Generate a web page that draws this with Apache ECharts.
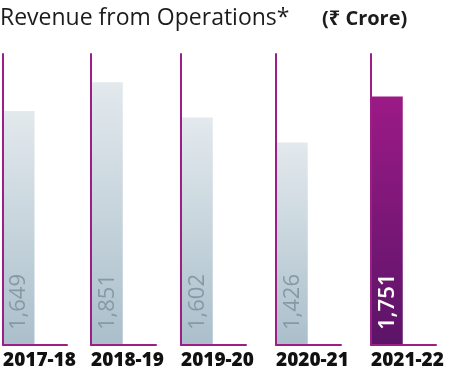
<!DOCTYPE html>
<html>
<head>
<meta charset="utf-8">
<script src="https://cdn.jsdelivr.net/npm/echarts@6/dist/echarts.min.js"></script>
<style>
html,body{margin:0;padding:0;background:#fff;}
#chart{width:463px;height:378px;}
</style>
</head>
<body>
<div id="chart"></div>
<script>
var categories = ['2017-18', '2018-19', '2019-20', '2020-21', '2021-22'];
var revenue = [1649, 1851, 1602, 1426, 1751];
var titleText = 'Revenue from Operations*';
var unitText = '(\u20B9 Crore)';

var gridLefts = [2, 91, 181, 276, 371];
var purple = '#9b1f87';
var grayBar = new echarts.graphic.LinearGradient(0, 0, 0, 1, [
  {offset: 0, color: '#e3e9ed'}, {offset: 1, color: '#aabfcb'}
]);
var magentaBar = new echarts.graphic.LinearGradient(0, 0, 0, 1, [
  {offset: 0, color: '#9c1a86'}, {offset: 1, color: '#5b1468'}
]);
var fontFam = '"Open Sans", "Noto Sans", sans-serif';

var grids = [], xAxes = [], yAxes = [], series = [];
categories.forEach(function (cat, i) {
  var last = i === categories.length - 1;
  grids.push({left: gridLefts[i], top: 54, width: 65, bottom: 33});
  // label / baseline axis
  xAxes.push({
    type: 'category', gridIndex: i, position: 'bottom', boundaryGap: false,
    data: [cat, ''], z: 5,
    axisLine: {show: true, lineStyle: {color: purple, width: 2}},
    axisTick: {show: false},
    axisLabel: {
      show: true, align: 'left', margin: 6, interval: 0,
      fontFamily: fontFam, fontSize: 19, fontWeight: 800, color: '#111'
    },
    splitLine: {show: false}
  });
  // bar axis
  xAxes.push({
    type: 'category', gridIndex: i, position: 'bottom', boundaryGap: true,
    data: [cat, ''], show: false
  });
  yAxes.push({
    type: 'value', gridIndex: i, min: 0, max: 2050, z: 5,
    axisLine: {show: true, lineStyle: {color: purple, width: 2}},
    axisTick: {show: false}, axisLabel: {show: false}, splitLine: {show: false}
  });
  series.push({
    type: 'bar', xAxisIndex: i * 2 + 1, yAxisIndex: i, barWidth: 31,
    data: [revenue[i], null],
    itemStyle: {color: last ? magentaBar : grayBar},
    label: {
      show: true, position: 'insideBottom', rotate: 90, distance: 15,
      align: 'left', verticalAlign: 'middle',
      formatter: function (p) { return p.value.toLocaleString('en-US'); },
      fontFamily: fontFam, fontSize: 22, fontWeight: last ? 600 : 'normal',
      color: last ? '#ffffff' : '#8699a6'
    },
    silent: true, animation: false
  });
});

var chart = echarts.init(document.getElementById('chart'), null, {renderer: 'canvas'});
chart.setOption({
  animation: false,
  title: [
    {text: titleText, left: -5, top: 2, textStyle: {fontFamily: fontFam, fontSize: 23, fontWeight: 'normal', color: '#1c1c1c'}},
    {text: unitText, left: 317, top: 4, textStyle: {fontFamily: fontFam, fontSize: 20, fontWeight: 'bold', color: '#1c1c1c'}}
  ],
  grid: grids,
  xAxis: xAxes,
  yAxis: yAxes,
  series: series
});
</script>
</body>
</html>
